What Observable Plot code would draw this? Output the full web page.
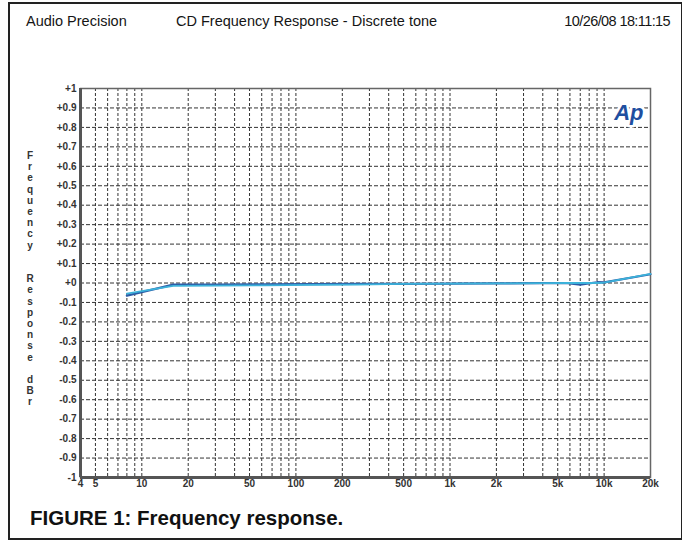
<!DOCTYPE html>
<html>
<head>
<meta charset="utf-8">
<script src="https://cdn.jsdelivr.net/npm/d3@7"></script>
<script src="https://cdn.jsdelivr.net/npm/@observablehq/plot@0.6"></script>
<style>
  html, body { margin: 0; padding: 0; background: #fff; }
  #wrap { position: relative; width: 682px; height: 541px; overflow: hidden; background: #fff; font-family: "Liberation Sans", Arial, sans-serif; }
  #frame { position: absolute; left: 8px; top: 2px; width: 671px; height: 534px; border: 2px solid #222; pointer-events: none; }
  .hdr { position: absolute; top: 13px; font-size: 14.5px; color: #151515; white-space: nowrap; }
  #ytitle { position: absolute; left: 24px; top: 150px; width: 12px; text-align: center; font-size: 10px; font-weight: bold; line-height: 11.2px; color: #333; white-space: pre; }
  #caption { position: absolute; left: 30px; top: 506px; font-size: 20.5px; font-weight: bold; color: #111; white-space: nowrap; }
  #chart { position: absolute; left: 0; top: 0; }
</style>
</head>
<body>
<div id="wrap">
  <div id="chart"></div>
  <div class="hdr" style="left:26px">Audio Precision</div>
  <div class="hdr" style="left:176px">CD Frequency Response - Discrete tone</div>
  <div class="hdr" style="right:12px; letter-spacing:-0.6px">10/26/08 18:11:15</div>
  <div id="ytitle"></div>
  <div id="caption">FIGURE 1: Frequency response.</div>
  <div id="frame"></div>
</div>
<script>
// ---- data ----
const freqs = [8, 16, 31.5, 63, 125, 250, 500, 1000, 2000, 4000, 5800, 7000, 9000, 10000, 20000];
const leftDbr = [-0.065, -0.008, -0.008, -0.007, -0.006, -0.005, -0.004, -0.003, -0.002, -0.001, -0.001, -0.008, 0.004, 0.003, 0.045];
const rightDbr = [-0.055, -0.015, -0.014, -0.012, -0.010, -0.008, -0.005, -0.003, -0.002, -0.001, 0.000, 0.000, 0.000, 0.002, 0.047];

const xTickValues = [4, 5, 10, 20, 50, 100, 200, 500, 1000, 2000, 5000, 10000, 20000];
const xTickLabels = ["4", "5", "10", "20", "50", "100", "200", "500", "1k", "2k", "5k", "10k", "20k"];
const xGrid = [5, 6, 7, 8, 9, 10, 20, 30, 40, 50, 60, 70, 80, 90, 100, 200, 300, 400, 500, 600, 700, 800, 900,
               1000, 2000, 3000, 4000, 5000, 6000, 7000, 8000, 9000, 10000];
const yTickValues = [-1, -0.9, -0.8, -0.7, -0.6, -0.5, -0.4, -0.3, -0.2, -0.1, 0, 0.1, 0.2, 0.3, 0.4, 0.5, 0.6, 0.7, 0.8, 0.9, 1];
const yTickLabels = ["-1", "-0.9", "-0.8", "-0.7", "-0.6", "-0.5", "-0.4", "-0.3", "-0.2", "-0.1", "+0",
                     "+0.1", "+0.2", "+0.3", "+0.4", "+0.5", "+0.6", "+0.7", "+0.8", "+0.9", "+1"];
const yGrid = [-0.9, -0.8, -0.7, -0.6, -0.5, -0.4, -0.3, -0.2, -0.1, 0, 0.1, 0.2, 0.3, 0.4, 0.5, 0.6, 0.7, 0.8, 0.9];
const yTitle = "Frequency  Response dBr";
const channels = ["Left", "Right"];

const rows = [];
freqs.forEach((f, i) => {
  rows.push({f, v: leftDbr[i], ch: channels[0]});
  rows.push({f, v: rightDbr[i], ch: channels[1]});
});
const xTicks = xTickValues.map((v, i) => ({v, label: xTickLabels[i]}));
const yTicks = yTickValues.map((v, i) => ({v, label: yTickLabels[i]}));
const labelFont = "'Liberation Sans Narrow', 'Liberation Sans', Arial, sans-serif";

const chart = Plot.plot({
  width: 682,
  height: 541,
  marginLeft: 80,
  marginRight: 32,
  marginTop: 88,
  marginBottom: 64,
  style: {background: "transparent", fontFamily: labelFont, fontSize: "10px", fontWeight: "bold", color: "#333"},
  x: {type: "log", domain: [4, 20000], axis: null},
  y: {domain: [-1, 1], axis: null},
  marks: [
    Plot.ruleX(xGrid, {stroke: "#333", strokeWidth: 1, strokeDasharray: "3,2"}),
    Plot.ruleY(yGrid, {stroke: "#333", strokeWidth: 1, strokeDasharray: "4,2"}),
    Plot.frame({stroke: "#666", strokeWidth: 1.5}),
    Plot.ruleX([4], {stroke: "#555", strokeWidth: 3}),
    Plot.ruleY([-1], {stroke: "#555", strokeWidth: 3}),
    Plot.line(rows.filter(d => d.ch === channels[0]), {x: "f", y: "v", stroke: "#2c5ca6", strokeWidth: 2.2}),
    Plot.line(rows.filter(d => d.ch === channels[1]), {x: "f", y: "v", stroke: "#3cb2da", strokeWidth: 1.8}),
    Plot.text(xTicks, {x: "v", text: "label", frameAnchor: "bottom", dy: 9, fill: "#333", fontSize: 10, fontWeight: "bold", fontFamily: labelFont}),
    Plot.text(yTicks, {y: "v", text: "label", frameAnchor: "left", textAnchor: "end", dx: -4, fill: "#333", fontSize: 10, fontWeight: "bold", fontFamily: labelFont}),
    Plot.text(["Ap"], {frameAnchor: "top-right", dx: -7, dy: 16, text: d => d, fill: "#1f4fa0", fontSize: 22, fontWeight: "bold", fontStyle: "italic", fontFamily: "'Liberation Sans', Arial, sans-serif", stroke: "white", strokeWidth: 5})
  ]
});
document.getElementById("chart").appendChild(chart);
document.getElementById("ytitle").textContent = yTitle.split("").join("\n");
</script>
</body>
</html>
